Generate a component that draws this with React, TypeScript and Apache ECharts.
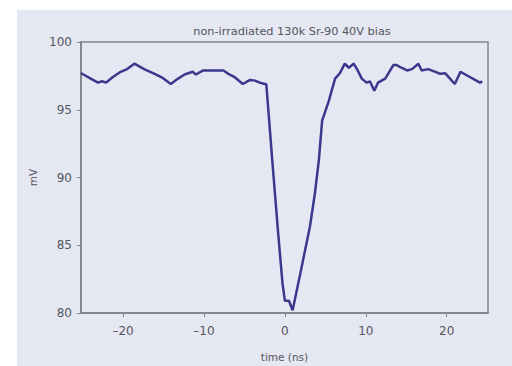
import React, { useEffect, useRef } from "react";
import * as echarts from "echarts";

const titleText = "non-irradiated 130k Sr-90 40V bias";
const xName = "time (ns)";
const yName = "mV";

const timeNs = [
  -25.2, -24.9, -24.0, -23.1, -22.6, -22.1, -21.3, -20.3, -19.5, -18.6,
  -17.4, -16.1, -15.1, -14.1, -13.2, -12.4, -11.4, -11.0, -10.1, -8.7,
  -7.6, -7.0, -6.2, -5.2, -4.3, -3.7, -3.1, -2.5, -2.3, -1.5,
  -0.85, -0.3, 0.0, 0.5, 0.95, 1.9, 3.1, 3.7, 4.2, 4.6,
  5.4, 6.2, 6.8, 7.4, 7.9, 8.5, 9.0, 9.5, 10.1, 10.5,
  11.05, 11.5, 12.4, 12.9, 13.4, 13.8, 14.4, 15.1, 15.7, 16.5,
  16.9, 17.7, 18.6, 19.2, 19.8, 20.4, 21.0, 21.7, 22.3, 22.9,
  23.5, 24.1, 24.4,
];

const voltageMv = [
  97.7, 97.6, 97.3, 97.0, 97.1, 97.0, 97.4, 97.8, 98.0, 98.4,
  98.0, 97.65, 97.35, 96.9, 97.3, 97.6, 97.8, 97.6, 97.9, 97.9,
  97.9, 97.65, 97.4, 96.9, 97.2, 97.15, 97.0, 96.9, 96.9, 90.8,
  86.0, 82.2, 80.9, 80.9, 80.2, 82.9, 86.4, 88.8, 91.3, 94.2,
  95.6, 97.3, 97.7, 98.4, 98.1, 98.4, 97.9, 97.3, 97.0, 97.1,
  96.4, 97.0, 97.3, 97.8, 98.3, 98.3, 98.1, 97.9, 98.0, 98.4,
  97.9, 98.0, 97.8, 97.65, 97.7, 97.3, 96.9, 97.8, 97.6, 97.4,
  97.2, 97.0, 97.1,
];

const yTicks = [80, 85, 90, 95, 100];

export default function App() {
  const ref = useRef<HTMLDivElement>(null);
  useEffect(() => {
    if (!ref.current) return;
    const chart = echarts.init(ref.current, undefined, { renderer: "svg" });
    const bg = "#e5e7f3";
    const axisGray = "#84858f";
    const textGray = "#55555c";
    const font = "DejaVu Sans";
    chart.setOption({
      animation: false,
      backgroundColor: "#ffffff",
      graphic: [
        {
          type: "rect",
          shape: { x: 17, y: 10, width: 495, height: 356 },
          style: { fill: bg },
          z: -10,
          silent: true,
        },
      ],
      title: {
        text: titleText,
        left: 287,
        top: 21,
        textAlign: "center",
        textStyle: { fontFamily: font, fontSize: 11.3, fontWeight: "normal", color: textGray },
      },
      grid: {
        left: 81,
        top: 42,
        right: 24,
        bottom: 53,
        show: true,
        containLabel: false,
        outerBoundsMode: "none",
        borderColor: axisGray,
        borderWidth: 1.5,
        backgroundColor: "transparent",
      },
      xAxis: {
        type: "value",
        min: -25.2,
        max: 25.1,
        splitNumber: 5,
        name: xName,
        nameLocation: "middle",
        nameGap: 38,
        nameTextStyle: { fontFamily: font, fontSize: 10.5, color: textGray },
        axisLine: { show: true, onZero: false, lineStyle: { color: axisGray, width: 2 } },
        axisTick: { show: true, length: 4, lineStyle: { color: axisGray } },
        axisLabel: {
          fontFamily: font,
          fontSize: 12,
          color: textGray,
          margin: 12,
          showMinLabel: false,
          showMaxLabel: false,
          formatter: (v: number) => (v < 0 ? "\u2013" + Math.abs(v) : String(v)),
        },
        splitLine: { show: false },
      },
      yAxis: {
        type: "value",
        min: 80,
        max: 100,
        interval: 5,
        name: yName,
        nameLocation: "middle",
        nameGap: 42,
        nameRotate: 90,
        nameTextStyle: { fontFamily: font, fontSize: 10.5, color: textGray },
        axisLine: { show: true, onZero: false, lineStyle: { color: axisGray, width: 2 } },
        axisTick: { show: true, length: 4, lineStyle: { color: axisGray } },
        axisLabel: {
          fontFamily: font,
          fontSize: 12,
          color: textGray,
          margin: 9,
          formatter: (v: number) => (yTicks.includes(v) ? String(v) : ""),
        },
        splitLine: { show: false },
      },
      series: [
        {
          type: "line",
          data: timeNs.map((t, i) => [t, voltageMv[i]]),
          showSymbol: false,
          symbol: "none",
          lineStyle: { color: "#3a388c", width: 2.5 },
        },
      ],
    });
    return () => chart.dispose();
  }, []);
  return (
    <div
      ref={ref}
      style={{ position: "absolute", left: 0, top: 0, width: 512, height: 366 }}
    />
  );
}
